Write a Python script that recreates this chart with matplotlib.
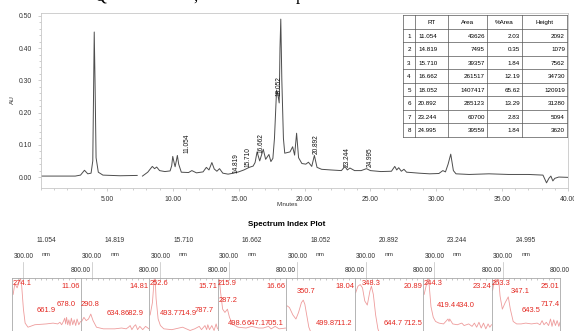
import numpy as np
import matplotlib
matplotlib.use('Agg')
import matplotlib.pyplot as plt
from matplotlib import font_manager, transforms

# ---- chromatogram trace (minutes, AU) ----
time_min = [0.0, 2.6, 3.0, 3.3, 3.55, 3.8, 3.93, 4.0, 4.04, 4.1,
            4.18, 4.35, 4.7, 6.0, 7.3, 7.5, 7.7, 8.1, 8.45, 8.62,
            8.78, 9.0, 9.4, 9.8, 9.92, 10.0, 10.1, 10.18, 10.27, 10.35,
            10.45, 10.65, 11.2, 11.45, 11.8, 12.3, 12.55, 12.75, 12.97, 13.15,
            13.35, 13.55, 13.8, 14.2, 14.6, 15.0, 15.4, 15.8, 16.1, 16.25,
            16.4, 16.6, 16.87, 17.05, 17.3, 17.45, 17.6, 17.72, 17.88, 17.98,
            18.08, 18.14, 18.2, 18.28, 18.4, 18.5, 18.9, 19.1, 19.25, 19.4,
            19.55, 19.8, 20.1, 20.3, 20.55, 20.75, 20.95, 21.3, 22.0, 22.8,
            23.07, 23.25, 23.45, 23.8, 24.3, 24.7, 25.0, 25.8, 26.6, 26.85,
            27.0, 27.15, 27.35, 27.55, 27.75, 28.1, 28.7, 29.5, 30.2, 30.5,
            30.7, 30.9, 31.1, 31.3, 31.5, 32.5, 34.0, 35.5, 37.0, 38.1,
            38.37, 38.55, 38.7, 38.85, 39.0, 39.3, 40.0]
au = [0.003, 0.003, 0.006, 0.021, 0.010, 0.012, 0.050, 0.300, 0.450, 0.300,
      0.060, 0.015, 0.006, 0.004, 0.005, np.nan, 0.003, 0.015, 0.033, 0.026,
      0.031, 0.020, 0.017, 0.019, 0.035, 0.064, 0.045, 0.032, 0.050, 0.067,
      0.040, 0.015, 0.014, 0.020, 0.013, 0.016, 0.030, 0.022, 0.045, 0.025,
      0.018, 0.026, 0.012, 0.009, 0.012, 0.016, 0.022, 0.030, 0.034, 0.045,
      0.078, 0.050, 0.086, 0.055, 0.070, 0.048, 0.058, 0.120, 0.270, 0.255,
      0.230, 0.400, 0.490, 0.300, 0.120, 0.074, 0.078, 0.094, 0.068, 0.136,
      0.060, 0.042, 0.040, 0.046, 0.033, 0.067, 0.030, 0.024, 0.022, 0.020,
      0.033, 0.022, 0.028, 0.020, 0.020, 0.026, 0.020, 0.017, 0.018, 0.033,
      0.022, 0.029, 0.018, 0.024, 0.015, 0.014, 0.012, 0.010, 0.011, 0.020,
      0.016, 0.040, 0.071, 0.020, 0.010, 0.008, 0.010, 0.008, 0.008, 0.006,
      -0.018, -0.004, 0.003, -0.012, -0.004, 0.000, -0.001]

# ---- peak table ----
peak_rt = [11.054, 14.819, 15.710, 16.662, 18.052, 20.892, 23.244, 24.995]
peak_area = [43626, 7495, 39357, 261517, 1407417, 285123, 60700, 39559]
pct_area = [2.03, 0.35, 1.84, 12.19, 65.62, 13.29, 2.83, 1.84]
peak_height = [2092, 1079, 7562, 34730, 120919, 31280, 5094, 3620]
label_base = [0.075, 0.014, 0.030, 0.075, 0.250, 0.070, 0.030, 0.030]

# ---- spectra (nm, relative absorbance) ----
wl_1 = [210, 225, 245, 262, 274, 285, 300, 315, 340, 400, 500, 560, 600, 620, 635,
        650, 662, 670, 678, 688, 698, 708, 720, 732, 745, 758, 770, 785, 800]
ab_1 = [0.80, 0.93, 0.88, 0.95, 1.00, 0.90, 0.62, 0.45, 0.40, 0.43, 0.44, 0.45, 0.44, 0.46, 0.43,
        0.47, 0.51, 0.44, 0.52, 0.43, 0.49, 0.42, 0.51, 0.43, 0.49, 0.42, 0.50, 0.43, 0.47]
wl_2 = [210, 230, 250, 270, 290, 310, 340, 400, 500, 560, 600, 620, 635, 650, 668,
        683, 700, 720, 745, 770, 800]
ab_2 = [0.47, 0.52, 0.48, 0.50, 0.56, 0.48, 0.40, 0.38, 0.38, 0.39, 0.38, 0.40, 0.42, 0.37, 0.41,
        0.43, 0.37, 0.41, 0.37, 0.41, 0.38]
wl_3 = [210, 230, 245, 253, 262, 280, 300, 330, 400, 494, 560, 600, 640, 660, 690,
        705, 715, 730, 750, 770, 788, 800]
ab_3 = [0.55, 0.70, 0.98, 1.02, 0.75, 0.50, 0.42, 0.38, 0.37, 0.40, 0.36, 0.38, 0.41, 0.37, 0.42,
        0.37, 0.43, 0.37, 0.42, 0.36, 0.44, 0.38]
wl_4 = [210, 216, 225, 245, 265, 287, 305, 330, 380, 450, 499, 560, 600, 647, 670,
        705, 740, 800]
ab_4 = [0.92, 0.98, 0.85, 0.62, 0.58, 0.62, 0.52, 0.44, 0.40, 0.39, 0.41, 0.39, 0.39, 0.41, 0.38,
        0.41, 0.38, 0.39]
wl_5 = [210, 230, 260, 287, 310, 335, 351, 365, 385, 400, 420, 460, 500, 600, 711, 800]
ab_5 = [0.66, 0.64, 0.55, 0.50, 0.58, 0.70, 0.73, 0.68, 0.52, 0.40, 0.33, 0.30, 0.31, 0.30, 0.31, 0.30]
wl_6 = [210, 230, 250, 270, 290, 312, 335, 348, 365, 385, 405, 425, 460, 600, 645, 712, 800]
ab_6 = [0.82, 0.90, 0.92, 0.88, 0.72, 0.67, 0.84, 0.90, 0.80, 0.55, 0.38, 0.30, 0.29, 0.29, 0.30, 0.30, 0.29]
wl_7 = [210, 230, 244, 255, 270, 290, 310, 340, 380, 419, 428, 434, 460, 500, 540,
        560, 600, 630, 650, 670, 690, 710, 730, 750, 770, 785, 800]
ab_7 = [0.80, 0.92, 1.02, 0.90, 0.65, 0.52, 0.47, 0.45, 0.44, 0.50, 0.47, 0.50, 0.44, 0.43, 0.45,
        0.42, 0.44, 0.41, 0.45, 0.40, 0.46, 0.39, 0.45, 0.38, 0.44, 0.40, 0.43]
wl_8 = [210, 225, 240, 263, 275, 295, 320, 347, 365, 390, 420, 460, 500, 550, 600,
        625, 643, 660, 680, 700, 717, 730, 745, 760, 775, 790, 800]
ab_8 = [0.85, 0.97, 0.99, 0.98, 0.78, 0.62, 0.70, 0.77, 0.62, 0.47, 0.44, 0.44, 0.45, 0.44, 0.45,
        0.43, 0.48, 0.43, 0.46, 0.42, 0.50, 0.41, 0.49, 0.42, 0.48, 0.41, 0.46]

spec_rt = ['11.06', '14.81', '15.71', '16.66', '18.04', '20.89', '23.24', '25.01']
lmax_1 = ['274.1', '661.9', '678.0']
lmax_2 = ['290.8', '634.8', '682.9']
lmax_3 = ['252.6', '493.7', '714.9', '787.7']
lmax_4 = ['215.9', '287.2', '498.6', '647.1', '705.1']
lmax_5 = ['350.7', '499.8', '711.2']
lmax_6 = ['348.3', '644.7', '712.5']
lmax_7 = ['244.3', '419.4', '434.0']
lmax_8 = ['263.3', '347.1', '643.5', '717.4']

# where the lambda-max labels sit in each panel (nm of left edge, panel height)
lpos_1 = [(209, 0.93), (419, 0.60), (594, 0.68)]
lpos_2 = [(204, 0.68), (432, 0.57), (590, 0.57)]
lpos_3 = [(209, 0.93), (296, 0.57), (454, 0.57), (603, 0.60)]
lpos_4 = [(204, 0.93), (213, 0.73), (290, 0.45), (456, 0.45), (612, 0.45)]
lpos_5 = [(296, 0.83), (463, 0.44), (620, 0.44)]
lpos_6 = [(266, 0.93), (458, 0.45), (634, 0.45)]
lpos_7 = [(209, 0.93), (323, 0.67), (489, 0.67)]
lpos_8 = [(204, 0.93), (371, 0.83), (467, 0.60), (634, 0.68)]

spectra = [(wl_1, ab_1), (wl_2, ab_2), (wl_3, ab_3), (wl_4, ab_4),
           (wl_5, ab_5), (wl_6, ab_6), (wl_7, ab_7), (wl_8, ab_8)]
lmax = [lmax_1, lmax_2, lmax_3, lmax_4, lmax_5, lmax_6, lmax_7, lmax_8]
lpos = [lpos_1, lpos_2, lpos_3, lpos_4, lpos_5, lpos_6, lpos_7, lpos_8]

# narrow arial-like font if there is one
try:
    font_manager.findfont(font_manager.FontProperties(family='Liberation Sans Narrow'),
                          fallback_to_default=False)
    family = ['Liberation Sans Narrow', 'DejaVu Sans']
    k = 1.2
except ValueError:
    family = ['Liberation Sans', 'DejaVu Sans']
    k = 1.0
plt.rcParams['font.family'] = family

W, H = 574, 331
def fx(px):
    return px / W
def fy(py):
    return 1 - py / H

fig = plt.figure(figsize=(5.74, 3.31), dpi=100)

# cut-off caption line from the page above
for px, ch in [(100, 'Q'), (195, ','), (300, 'p')]:
    fig.text(fx(px), fy(0.5), ch, family='Liberation Serif', fontsize=12,
             va='baseline', ha='center')

# ---- chromatogram ----
ax = fig.add_axes([fx(41), fy(188), (568 - 41) / W, (188 - 13) / H])
ax.plot(time_min, au, color='#4d4d4d', lw=0.7)
ax.set_xlim(0, 40)
ax.set_ylim(-0.034, 0.509)
for s in ax.spines.values():
    s.set_color('#c8c8c8')
    s.set_linewidth(0.6)
ax.set_xticks(np.arange(5, 41, 5))
ax.set_xticklabels(['%.2f' % v for v in np.arange(5, 41, 5)])
ax.set_xticks(np.arange(0, 41, 1), minor=True)
ax.set_yticks(np.arange(0, 0.51, 0.1))
ax.set_yticklabels(['%.2f' % v for v in np.arange(0, 0.51, 0.1)])
ax.set_yticks(np.arange(0, 0.51, 0.02), minor=True)
ax.tick_params(which='both', direction='out', color='#aaaaaa', width=0.4,
               labelsize=4.9 * k, labelcolor='#333333')
ax.tick_params(which='major', length=2.5)
ax.tick_params(which='minor', length=1.2)
ax.tick_params(axis='x', pad=3)
ax.tick_params(axis='y', pad=4)
fig.text(fx(12), fy(100), 'AU', rotation=90, fontsize=4.6 * k, ha='center', va='center',
         color='#333333')
fig.text(fx(287), fy(205), 'Minutes', fontsize=4.4 * k, ha='center', va='center',
         color='#333333')

for rt, base in zip(peak_rt, label_base):
    ax.text(rt, base, '%.3f' % rt, rotation=90, ha='center', va='bottom',
            fontsize=4.7 * k, color='#111111')

# ---- peak table ----
tab = fig.add_axes([fx(403), fy(137), 164 / W, (137 - 15) / H])
tab.set_xlim(0, 164)
tab.set_ylim(9, 0)
tab.axis('off')
col_edges = [0, 12, 45, 84, 119, 164]
for x in col_edges:
    tab.plot([x, x], [0, 9], color='#555555', lw=0.5, clip_on=False)
for r in range(10):
    tab.plot([0, 164], [r, r], color='#555555', lw=0.5, clip_on=False)
fs_t = 4.5 * k
for c, name in enumerate(['', 'RT', 'Area', '%Area', 'Height']):
    tab.text((col_edges[c] + col_edges[c + 1]) / 2, 0.55, name, ha='center', va='center',
             fontsize=fs_t)
for i in range(len(peak_rt)):
    y = i + 1.55
    tab.text(6, y, str(i + 1), ha='center', va='center', fontsize=fs_t)
    tab.text(col_edges[1] + 3, y, '%.3f' % peak_rt[i], ha='left', va='center', fontsize=fs_t)
    tab.text(col_edges[3] - 2, y, str(peak_area[i]), ha='right', va='center', fontsize=fs_t)
    tab.text(col_edges[4] - 2, y, '%.2f' % pct_area[i], ha='right', va='center', fontsize=fs_t)
    tab.text(col_edges[5] - 2, y, str(peak_height[i]), ha='right', va='center', fontsize=fs_t)

# ---- spectrum index plot ----
fig.text(fx(287), fy(224), 'Spectrum Index Plot', fontsize=5.8 * k, weight='bold',
         ha='center', va='center')

red = '#e3261f'
pw = 68.5
for i in range(8):
    left = 12 + pw * i
    pax = fig.add_axes([fx(left), fy(360), pw / W, 82 / H])
    wl, ab = spectra[i]
    pax.plot(wl, ab, color='#ee9c9c', lw=0.6)
    pax.set_xlim(200, 800)
    pax.set_ylim(0, 1)
    for s in pax.spines.values():
        s.set_color('#a8a8a8')
        s.set_linewidth(0.6)
    pax.set_yticks([])
    pax.set_xticks(np.arange(250, 800, 50))
    pax.xaxis.tick_top()
    pax.tick_params(axis='x', direction='in', length=1.5, width=0.4, colors='#999999',
                    labeltop=False, labelbottom=False)
    bt = transforms.blended_transform_factory(pax.transData, fig.transFigure)
    pax.text(500, fy(240), '%.3f' % peak_rt[i], transform=bt, ha='center', va='center',
             fontsize=4.8 * k, color='#333333')
    pax.text(300, fy(257), '300.00', transform=bt, ha='center', va='center',
             fontsize=4.8 * k, color='#333333')
    pax.text(500, fy(255), 'nm', transform=bt, ha='center', va='center',
             fontsize=4.6 * k, color='#333333')
    pax.text(800, fy(270), '800.00', transform=bt, ha='center', va='center',
             fontsize=4.8 * k, color='#333333')
    pax.plot([300, 300], [fy(262), fy(278)], transform=bt, clip_on=False,
             color='#c0c0c0', lw=0.5)
    pax.text(797, 0.9, spec_rt[i], ha='right', va='center', fontsize=5.4 * k, color=red)
    for txt, (xn, yv) in zip(lmax[i], lpos[i]):
        pax.text(xn, yv, txt, ha='left', va='center', fontsize=5.4 * k, color=red)

fig.savefig('out.png', dpi=100)
